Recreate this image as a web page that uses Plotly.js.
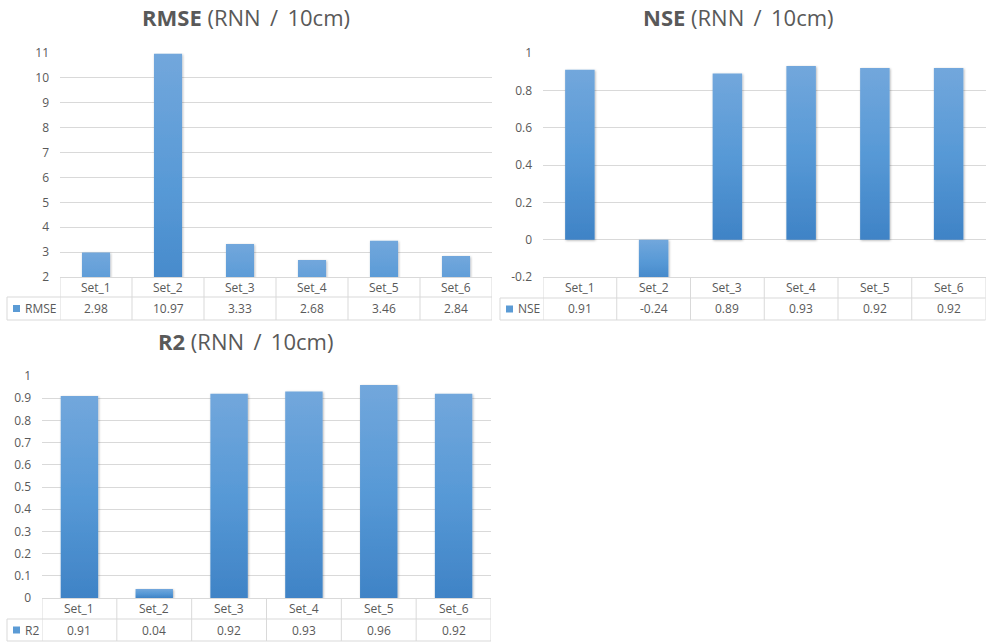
<!DOCTYPE html>
<html>
<head>
<meta charset="utf-8">
<script src="https://cdn.plot.ly/plotly-3.0.1.min.js"></script>
<style>
  html, body { margin: 0; padding: 0; background: #ffffff; }
  #chart { width: 986px; height: 643px; }
</style>
</head>
<body>
<div id="chart"></div>
<script>
// ---- data ----
const categories = ['Set_1', 'Set_2', 'Set_3', 'Set_4', 'Set_5', 'Set_6'];
const rmseValues = [2.98, 10.97, 3.33, 2.68, 3.46, 2.84];
const nseValues  = [0.91, -0.24, 0.89, 0.93, 0.92, 0.92];
const r2Values   = [0.91, 0.04, 0.92, 0.93, 0.96, 0.92];

const rmseTickVals = [2, 3, 4, 5, 6, 7, 8, 9, 10, 11];
const rmseTickText = ['2', '3', '4', '5', '6', '7', '8', '9', '10', '11'];
const nseTickVals  = [-0.2, 0, 0.2, 0.4, 0.6, 0.8, 1];
const nseTickText  = ['-0.2', '0', '0.2', '0.4', '0.6', '0.8', '1'];
const r2TickVals   = [0, 0.1, 0.2, 0.3, 0.4, 0.5, 0.6, 0.7, 0.8, 0.9, 1];
const r2TickText   = ['0', '0.1', '0.2', '0.3', '0.4', '0.5', '0.6', '0.7', '0.8', '0.9', '1'];

// title suffix; thin spaces widen the gaps around the slash
const subtitle = ' (RNN \u2009/ \u200910cm)';

// ---- page geometry (pixels) ----
const W = 986, H = 643;
const px = v => v / W;          // horizontal pixel -> paper fraction
const py = v => 1 - v / H;      // vertical pixel -> paper fraction

const FONT = '"Open Sans", "Noto Sans", sans-serif';
const TEXT_COLOR = '#595959';
const LINE_COLOR = '#d9d9d9';
const BAR_COLOR = '#5b9bd5';

const panels = [
  { name: 'RMSE', values: rmseValues, tickVals: rmseTickVals, tickText: rmseTickText,
    range: [2, 11], xa: 'x', ya: 'y', barWidth: 0.39,
    left: 60, right: 492, top: 53, axisY: 277, rowMid: 297, bottom: 320, keyLeft: 7,
    titleX: 246, titleY: 17 },
  { name: 'NSE', values: nseValues, tickVals: nseTickVals, tickText: nseTickText,
    range: [-0.2, 1], xa: 'x2', ya: 'y2', barWidth: 0.4,
    left: 543, right: 985.5, top: 53, axisY: 277, rowMid: 298, bottom: 320, keyLeft: 500,
    titleX: 738, titleY: 17 },
  { name: 'R2', values: r2Values, tickVals: r2TickVals, tickText: r2TickText,
    range: [0, 1], xa: 'x3', ya: 'y3', barWidth: 0.5,
    left: 42, right: 491, top: 376, axisY: 598, rowMid: 619, bottom: 641, keyLeft: 7,
    titleX: 245, titleY: 341 }
];

const traces = [];
const shapes = [];
const annotations = [];
const layout = {
  width: W, height: H,
  margin: { l: 0, r: 0, t: 0, b: 0 },
  paper_bgcolor: '#ffffff',
  plot_bgcolor: 'rgba(0,0,0,0)',
  showlegend: false,
  font: { family: FONT, color: TEXT_COLOR, size: 12 },
  shapes: shapes,
  annotations: annotations
};

const hline = (x0, x1, y) => ({
  type: 'line', xref: 'paper', yref: 'paper',
  x0: px(x0), x1: px(x1), y0: py(y), y1: py(y),
  line: { color: LINE_COLOR, width: 1 }, layer: 'above'
});
const vlineData = (xref, x, y0, y1) => ({
  type: 'line', xref: xref, yref: 'paper',
  x0: x, x1: x, y0: py(y0), y1: py(y1),
  line: { color: LINE_COLOR, width: 1 }, layer: 'above'
});

panels.forEach(p => {
  const xKey = p.xa === 'x' ? 'xaxis' : 'xaxis' + p.xa.slice(1);
  const yKey = p.ya === 'y' ? 'yaxis' : 'yaxis' + p.ya.slice(1);

  traces.push({
    type: 'bar',
    x: categories,
    y: p.values,
    xaxis: p.xa, yaxis: p.ya,
    width: p.barWidth,
    marker: { color: BAR_COLOR, line: { width: 0 } },
    hoverinfo: 'skip'
  });

  layout[xKey] = {
    type: 'category',
    domain: [px(p.left), px(p.right)],
    anchor: p.ya,
    range: [-0.5, categories.length - 0.5],
    showticklabels: false,
    ticks: '',
    showgrid: false,
    zeroline: false,
    showline: true,
    linecolor: LINE_COLOR,
    linewidth: 1,
    fixedrange: true
  };
  layout[yKey] = {
    domain: [py(p.axisY), py(p.top)],
    anchor: p.xa,
    range: p.range,
    tickmode: 'array',
    tickvals: p.tickVals,
    ticktext: p.tickText,
    ticks: '',
    ticklabelstandoff: 10,
    tickfont: { family: FONT, size: 12, color: TEXT_COLOR },
    showgrid: true,
    gridcolor: LINE_COLOR,
    gridwidth: 1,
    zeroline: false,
    showline: false,
    fixedrange: true
  };

  // chart title
  annotations.push({
    xref: 'paper', yref: 'paper',
    x: px(p.titleX), y: py(p.titleY),
    xanchor: 'center', yanchor: 'middle',
    text: '<b>' + p.name + '</b>' + subtitle,
    showarrow: false,
    font: { family: FONT, size: 22, color: TEXT_COLOR }
  });

  // data table under the axis: column separators
  for (let i = 0; i <= categories.length; i++) {
    shapes.push(vlineData(p.xa, i - 0.5, p.axisY, p.bottom));
  }
  // row separators and the legend-key cell
  shapes.push(hline(p.keyLeft, p.right, p.rowMid));
  shapes.push(hline(p.keyLeft, p.right, p.bottom));
  shapes.push({
    type: 'line', xref: 'paper', yref: 'paper',
    x0: px(p.keyLeft), x1: px(p.keyLeft), y0: py(p.rowMid), y1: py(p.bottom),
    line: { color: LINE_COLOR, width: 1 }, layer: 'above'
  });

  const catMid = (p.axisY + p.rowMid) / 2;
  const valMid = (p.rowMid + p.bottom) / 2;

  // legend key: swatch + series name
  shapes.push({
    type: 'rect', xref: 'paper', yref: 'paper',
    x0: px(p.keyLeft + 6), x1: px(p.keyLeft + 13),
    y0: py(valMid - 3.5), y1: py(valMid + 3.5),
    fillcolor: BAR_COLOR, line: { width: 0 }, layer: 'above'
  });
  annotations.push({
    xref: 'paper', yref: 'paper',
    x: px(p.keyLeft + 16), y: py(valMid),
    xanchor: 'left', yanchor: 'middle',
    text: p.name, showarrow: false,
    font: { family: FONT, size: 12, color: TEXT_COLOR }
  });

  // category names and values in the table cells
  categories.forEach((c, i) => {
    annotations.push({
      xref: p.xa, yref: 'paper', x: c, y: py(catMid),
      xanchor: 'center', yanchor: 'middle',
      text: c, showarrow: false,
      font: { family: FONT, size: 12, color: TEXT_COLOR }
    });
    annotations.push({
      xref: p.xa, yref: 'paper', x: c, y: py(valMid),
      xanchor: 'center', yanchor: 'middle',
      text: p.values[i].toFixed(2), showarrow: false,
      font: { family: FONT, size: 12, color: TEXT_COLOR }
    });
  });
});

Plotly.newPlot('chart', traces, layout, { staticPlot: true, displayModeBar: false }).then(gd => {
  // vertical light-to-dark fill and a soft shadow for the bars
  const NS = 'http://www.w3.org/2000/svg';
  const defs = gd.querySelector('.main-svg defs');
  if (!defs) return;

  const grad = document.createElementNS(NS, 'linearGradient');
  grad.setAttribute('id', 'barFill');
  grad.setAttribute('x1', '0'); grad.setAttribute('y1', '0');
  grad.setAttribute('x2', '0'); grad.setAttribute('y2', '1');
  [['0', '#72a7dc'], ['0.5', '#5799d6'], ['1', '#3f83c6']].forEach(([o, c]) => {
    const s = document.createElementNS(NS, 'stop');
    s.setAttribute('offset', o);
    s.setAttribute('stop-color', c);
    grad.appendChild(s);
  });
  defs.appendChild(grad);

  const filt = document.createElementNS(NS, 'filter');
  filt.setAttribute('id', 'barShadow');
  filt.setAttribute('x', '-20%'); filt.setAttribute('y', '-5%');
  filt.setAttribute('width', '140%'); filt.setAttribute('height', '110%');
  const ds = document.createElementNS(NS, 'feDropShadow');
  ds.setAttribute('dx', '0.8'); ds.setAttribute('dy', '0.8');
  ds.setAttribute('stdDeviation', '1');
  ds.setAttribute('flood-color', '#000000');
  ds.setAttribute('flood-opacity', '0.3');
  filt.appendChild(ds);
  defs.appendChild(filt);

  gd.querySelectorAll('.barlayer .point path').forEach(path => {
    path.style.fill = 'url(#barFill)';
    path.setAttribute('filter', 'url(#barShadow)');
  });
});
</script>
</body>
</html>
